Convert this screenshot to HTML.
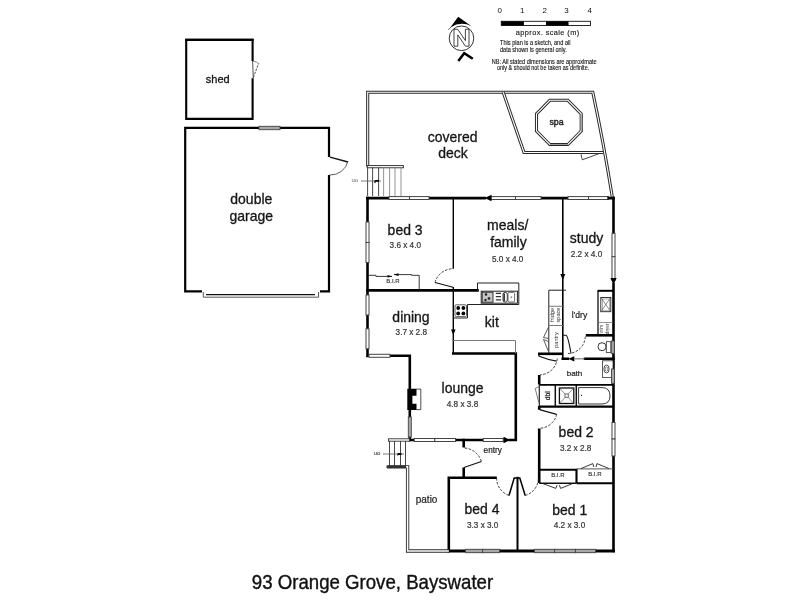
<!DOCTYPE html>
<html><head><meta charset="utf-8">
<style>
html,body{margin:0;padding:0;background:#fff;width:800px;height:600px;overflow:hidden}
svg{display:block;will-change:transform}
text{font-family:"Liberation Sans",sans-serif}
.w{stroke:#000;stroke-width:2.6;fill:none;stroke-linecap:square}
.wt{stroke:#000;stroke-width:1.4;fill:none}
.dl{stroke:#2a2a2a;stroke-width:3.1;fill:none}
.dw{stroke:#fff;stroke-width:1.1;fill:none}
.win{fill:#fff;stroke:#444;stroke-width:1}
.wg{fill:#a8a8a8;stroke:#444;stroke-width:0.9}
.thin{stroke:#222;stroke-width:1;fill:none}
.dash{stroke:#2a2a2a;stroke-width:0.9;fill:none;stroke-dasharray:2.6 1.4}
.lbl{font-size:13.8px;fill:#161616;stroke:#161616;stroke-width:0.3;text-anchor:middle}
.dim{font-size:8.2px;fill:#383838;stroke:#383838;stroke-width:0.22;text-anchor:middle}
.sm{font-size:9px;fill:#222;stroke:#222;stroke-width:0.2;text-anchor:middle}
</style></head>
<body>
<svg width="800" height="600" viewBox="0 0 800 600">
<rect width="800" height="600" fill="#fff"/>

<!-- ===== compass & scale ===== -->
<g id="compass">
  <circle cx="461.5" cy="38.3" r="12.3" fill="none" stroke="#333" stroke-width="1"/>
  <path d="M448.3,30 A14.6,14.6 0 0 1 454,25" stroke="#444" stroke-width="0.8" fill="none"/>
  <path d="M450.5,27.3 L458.2,16.8 L471.5,26.2 Q461,21 450.5,27.3 Z" fill="#000"/>
  <path d="M454,46.2 L454,29.3 L457.8,29.3 L465.4,40.6 L465.4,29.3 L469,29.3 L469,46.2 L465.4,46.2 L457.8,34.9 L457.8,46.2 Z" fill="#fff" stroke="#222" stroke-width="0.85" stroke-linejoin="miter"/>
  <path d="M458.3,61 L464.2,53.2 L472.8,58.8" stroke="#000" stroke-width="2.5" fill="none"/>
</g>
<g id="scale">
  <text x="499.7" y="13.2" font-size="8" fill="#111" text-anchor="middle">0</text>
  <text x="522.2" y="13.2" font-size="8" fill="#111" text-anchor="middle">1</text>
  <text x="544.7" y="13.2" font-size="8" fill="#111" text-anchor="middle">2</text>
  <text x="566.5" y="13.2" font-size="8" fill="#111" text-anchor="middle">3</text>
  <text x="589.7" y="13.2" font-size="8" fill="#111" text-anchor="middle">4</text>
  <rect x="501.3" y="21.3" width="89.2" height="4.2" fill="#fff" stroke="#111" stroke-width="0.9"/>
  <rect x="501.3" y="21.3" width="22.6" height="4.2" fill="#000"/>
  <rect x="546" y="21.3" width="22.5" height="4.2" fill="#000"/>
  <text x="515.8" y="35.2" font-size="7.4" fill="#222" stroke="#222" stroke-width="0.15" textLength="63.4" lengthAdjust="spacing">approx. scale (m)</text>
  <text x="500" y="44.7" font-size="6.9" fill="#111" stroke="#111" stroke-width="0.12" textLength="70.5" lengthAdjust="spacingAndGlyphs">This plan is a sketch, and all</text>
  <text x="500" y="52.2" font-size="6.9" fill="#111" stroke="#111" stroke-width="0.12" textLength="66.7" lengthAdjust="spacingAndGlyphs">data shown is general only.</text>
  <text x="491.7" y="63.5" font-size="6.9" fill="#111" stroke="#111" stroke-width="0.12" textLength="105" lengthAdjust="spacingAndGlyphs">NB: All stated dimensions are approximate</text>
  <text x="497" y="70.2" font-size="6.9" fill="#111" stroke="#111" stroke-width="0.12" textLength="92.2" lengthAdjust="spacingAndGlyphs">only &amp; should not be taken as definite.</text>
</g>

<!-- ===== shed ===== -->
<g id="shed">
  <path class="w" d="M252.6,61 L252.6,39.9 L186.2,39.9 L186.2,118.9 L252.6,118.9 L252.6,78.3" style="stroke-width:2.1;stroke-linecap:butt"/>
  <path class="w" d="M186.2,39.9 L252.6,39.9" style="stroke-width:2.1"/>
  <path d="M252.6,60.8 L253.3,78.3" stroke="#222" stroke-width="0.8" fill="none"/>
  <path d="M253.3,77.5 L258.6,63.5" stroke="#444" stroke-width="0.9" fill="none" stroke-dasharray="2.5 1"/>
  <path d="M253,61 Q257,61.8 258.8,63.8" stroke="#555" stroke-width="0.7" fill="none"/>
  <text class="lbl" x="217.7" y="83" font-size="11" style="font-size:11px">shed</text>
</g>

<!-- ===== garage ===== -->
<g id="garage">
  <path class="w" d="M329,157 L329,127.9 L185.2,127.9 L185.2,291.3 L202,291.3" style="stroke-width:2.2;stroke-linecap:butt"/>
  <path class="w" d="M329,175 L329,291.3 L320,291.3" style="stroke-width:2.2;stroke-linecap:butt"/>
  <rect class="wg" x="259" y="126.3" width="21" height="3.4"/>
  <path d="M330,157.2 L348,162" stroke="#111" stroke-width="1.3" fill="none"/>
  <path d="M348,161 A18,18 0 0 1 329.5,175" stroke="#333" stroke-width="0.8" fill="none"/>
  <path d="M203.3,292 L203.3,297.2 L318.6,297.2 L318.6,292" stroke="#444" stroke-width="0.9" fill="none"/>
  <path d="M206,294.6 L315,294.6" stroke="#111" stroke-width="1.4" fill="none"/>
  <text class="lbl" transform="translate(251.3,203.6) scale(1.014,1)">double</text>
  <text class="lbl" transform="translate(251.3,220.6) scale(1.014,1)">garage</text>
</g>

<!-- ===== covered deck ===== -->
<g id="deck">
  <path class="dl" d="M367.7,166.5 L367.7,92.3 L592.8,92.3 Q603.5,142 612.3,197"/>
  <path class="dw" d="M367.7,166.5 L367.7,92.3 L592.8,92.3 Q603.5,142 612.3,197"/>
  <path class="dl" d="M503.2,92.3 L524,152.5 L603,152.5"/>
  <path class="dw" d="M503.2,92.3 L524,152.5 L603,152.5"/>
  <rect x="367.2" y="165.6" width="36.2" height="2.2" fill="#fff" stroke="#222" stroke-width="0.9"/>
  <g stroke="#333" stroke-width="0.9">
    <line x1="367.6" y1="167.5" x2="367.6" y2="196"/>
    <line x1="372.6" y1="167.5" x2="372.6" y2="196"/>
    <line x1="378.6" y1="167.5" x2="378.6" y2="196"/>
  </g>
  <g stroke="#888" stroke-width="0.9">
    <line x1="383.6" y1="167.5" x2="383.6" y2="196"/>
    <line x1="389.6" y1="167.5" x2="389.6" y2="196"/>
    <line x1="395" y1="167.5" x2="395" y2="196"/>
    <line x1="401" y1="167.5" x2="401" y2="196"/>
  </g>
  <line x1="361" y1="181" x2="381" y2="181" stroke="#555" stroke-width="0.8"/>
  <path d="M374.5,180.3 L379,179.8 L379,181.8 L375.5,181.8 L375.5,183.2 L374.3,183 Z" fill="#000"/>
  <text x="354.8" y="182.3" font-size="6" fill="#666" text-anchor="middle">uo</text>
  <path class="dl" d="M536.5,113.8 L549.8,100.3 L567.9,100.3 L581.2,113.8 L581.2,131 L567.9,144.5 L549.8,144.5 L536.5,131 Z"/>
  <path class="dw" d="M536.5,113.8 L549.8,100.3 L567.9,100.3 L581.2,113.8 L581.2,131 L567.9,144.5 L549.8,144.5 L536.5,131 Z"/>
  <path d="M581.2,114.5 L581.2,131 M567.9,144.5 L549.8,144.5" stroke="#9a9a9a" stroke-width="1.1" fill="none"/>
  <text x="556.5" y="124.5" font-size="8.8" fill="#222" text-anchor="middle" stroke="#222" stroke-width="0.4">spa</text>
  <path d="M581,154.2 L582.3,159.8 L599.8,153.4" stroke="#333" stroke-width="0.9" fill="none"/>
  <text class="lbl" transform="translate(452.7,141.8) scale(1.014,1)">covered</text>
  <text class="lbl" transform="translate(453,157.6) scale(1.014,1)">deck</text>
</g>

<!-- ===== house walls ===== -->
<g id="house">
  <!-- top wall -->
  <path class="w" d="M367.5,198.1 L389,198.1 M429,198.1 L484.5,198.1 M541,198.1 L568,198.1 M609,198.1 L613.5,198.1" style="stroke-width:2.8"/>
  <rect class="win" x="389" y="196.6" width="20.5" height="2.9"/>
  <rect class="win" x="409.5" y="196.6" width="19.5" height="2.9"/>
  <rect class="win" x="491" y="196.6" width="24.5" height="2.9"/>
  <rect class="win" x="515.5" y="196.6" width="25.5" height="2.9"/>
  <path d="M484.5,198 L491.5,194.8 L491.5,201.2 Z" fill="#000"/>
  <rect class="win" x="568" y="196.6" width="20.5" height="2.9"/>
  <rect class="win" x="588.5" y="196.6" width="19.5" height="2.9"/>
  <path d="M612,198 L607.5,196 L607.5,200 Z" fill="#000"/>
  <!-- left wall -->
  <path class="w" d="M367.5,198 L367.5,222 M367.5,262.5 L367.5,295 M367.5,315 L367.5,328.8 M367.5,348.8 L367.5,356"/>
  <rect class="win" x="366" y="222" width="3" height="20.5"/>
  <rect class="win" x="366" y="242.5" width="3" height="20"/>
  <rect class="win" x="366" y="295" width="3" height="20"/>
  <rect class="win" x="366" y="328.8" width="3" height="20"/>
  <!-- right wall -->
  <path class="w" d="M613.5,198 L613.5,233.3 M613.5,284 L613.5,551"/>
  <rect class="win" x="612" y="233.3" width="3" height="23.4"/>
  <rect class="win" x="612" y="256.7" width="3" height="23.3"/>
  <path d="M613.5,284.5 L610.3,278 L616.7,278 Z" fill="#000"/>
  <rect class="win" x="612" y="422.5" width="3" height="16.5"/>
  <rect class="win" x="612" y="439" width="3" height="17"/>
  <!-- bottom wall -->
  <path class="w" d="M449,551 L613.5,551" style="stroke-width:2.8"/>
  <rect class="wg" x="465.6" y="549.3" width="17" height="3.4"/>
  <rect class="wg" x="482.6" y="549.3" width="17" height="3.4"/>
  <rect class="wg" x="534.4" y="549.3" width="20.2" height="3.4"/>
  <rect class="wg" x="554.6" y="549.3" width="20.8" height="3.4"/>
  <rect class="wg" x="575.4" y="549.3" width="20.2" height="3.4"/>
  <!-- bed3 bottom -->
  <path class="w" d="M367.5,290.4 L477.5,290.4"/>
  <!-- bed3/meals wall -->
  <path class="wt" d="M453.3,198 L453.3,268.8 M453.3,287 L453.3,354"/>
  <!-- bed3 door -->
  <path d="M453,287.3 L435,282.5" stroke="#111" stroke-width="1.1" fill="none"/>
  <path class="dash" d="M435,282.5 A18.5,18.5 0 0 1 453,268.8"/>
  <!-- BIR bed3 -->
  <path d="M368.5,275.3 L375.9,275.3 L375.9,276.4 L392,276.4 M394,274.6 L411.5,274.6 L411.5,275.3 L419.2,275.3 L419.2,290" stroke="#222" stroke-width="0.9" fill="none"/>
  <path d="M392.3,276.4 L387.5,274.9 L387.5,277.6 Z M393.8,274.6 L398.5,273.2 L398.5,275.9 Z" fill="#000"/>
  <text x="392.9" y="282.6" font-size="6" fill="#333" stroke="#333" stroke-width="0.15" text-anchor="middle">B.I.R</text>
  <!-- meals/study wall -->
  <path class="wt" d="M562.8,198 L562.8,358.5" style="stroke-width:1.6"/>
  <path d="M562.8,280 L560.3,274 L565.3,274 Z" fill="#000"/>
  <!-- dining bottom & lounge left -->
  <path class="w" d="M390,355.8 L409.8,355.8 L409.8,388.7 M409.8,410 L409.8,417 M409.8,437 L409.8,440"/>
  <rect class="win" x="369" y="354.3" width="21" height="3"/>
  <path d="M416.3,389.1 L420.8,389.1 L420.8,409.6 L416.3,409.6" fill="#fff" stroke="#222" stroke-width="0.8"/>
  <path d="M407.3,388.7 L416.5,388.7 L416.5,395.8 L412.4,395.8 L412.4,403.7 L416.5,403.7 L416.5,410 L407.3,410 Z" fill="#000"/>
  <rect class="wg" x="408.3" y="417" width="3" height="20"/>
  <!-- lounge bottom -->
  <path class="w" d="M409.8,440 L414.2,440 M455.5,440 L483.2,440 M510,440 L515.8,440 L515.8,353.5 L453.3,353.5"/>
  <rect class="win" x="414.2" y="438.5" width="20.6" height="3"/>
  <rect class="win" x="434.8" y="438.5" width="20.7" height="3"/>
  <rect class="win" x="483.2" y="438.5" width="20" height="3"/>
  <path d="M510.5,440 L503.5,436.8 L503.5,443.2 Z" fill="#000"/>
  <!-- kitchen benches -->
  <path d="M477.5,290.4 L477.5,283 L518.8,283 L518.8,304.5 L467.5,304.5 L467.5,318 L453.3,318" stroke="#222" stroke-width="1" fill="none"/>
  <rect x="455" y="304.8" width="11.5" height="11.8" rx="1.2" fill="#fff" stroke="#333" stroke-width="0.8"/>
  <circle cx="458.2" cy="308" r="1.9" fill="#000"/><circle cx="463.4" cy="308" r="1.9" fill="#000"/>
  <circle cx="458.2" cy="313.4" r="1.9" fill="#000"/><circle cx="463.4" cy="313.4" r="1.9" fill="#000"/>
  <rect x="481.2" y="291.2" width="36.2" height="12" fill="#fff" stroke="#222" stroke-width="1"/>
  <rect x="482.2" y="292.2" width="10.8" height="10" fill="#c8c8c8" stroke="#222" stroke-width="0.9"/>
  <circle cx="486" cy="294.5" r="1.3" fill="#222"/><circle cx="489" cy="298.5" r="1.4" fill="#333"/><circle cx="485.5" cy="300" r="1.2" fill="#222"/>
  <path d="M495.8,293.3 L501,293.3 M495.8,296.6 L501,296.6 M495.8,299.9 L501,299.9" stroke="#333" stroke-width="1.2"/>
  <rect x="503" y="292.4" width="4.3" height="9.6" rx="2" fill="#fff" stroke="#222" stroke-width="0.9"/>
  <path d="M504.2,293.5 L504.2,301" stroke="#000" stroke-width="1.2"/>
  <rect x="508" y="292.4" width="6.6" height="9.6" rx="1.2" fill="#fff" stroke="#444" stroke-width="0.8"/>
  <path d="M510.3,297.2 L512.3,297.2 M511.3,296.2 L511.3,298.2" stroke="#555" stroke-width="0.5"/>
  <path d="M453.3,335 L451,329.5 L455.6,329.5 Z" fill="#000"/>
  <path d="M453.3,340.5 L515.5,340.5 L515.5,353.5" stroke="#777" stroke-width="1" fill="none"/>
  <!-- fridge/pantry -->
  <path d="M566,290.2 L548.8,290.2 L548.8,354" stroke="#222" stroke-width="1" fill="none"/>
  <path d="M548.8,306.2 L562.8,306.2 M548.8,325.5 L562.8,325.5" stroke="#777" stroke-width="1.1"/>
  <path d="M548.3,327.5 L543.5,337.5 L548.3,338.5 M548.3,341.5 L543.5,339.5 L548.3,351" stroke="#333" stroke-width="0.8" fill="none"/>
  <text transform="translate(553.5,315) rotate(-90)" font-size="5.6" fill="#333" text-anchor="middle">fridge</text>
  <text transform="translate(560,315) rotate(-90)" font-size="5.6" fill="#333" text-anchor="middle">space</text>
  <text transform="translate(557.5,340) rotate(-90)" font-size="5.6" fill="#333" text-anchor="middle">pantry</text>
  <path class="w" d="M538,353.8 L562.8,353.8" style="stroke-linecap:butt"/>
  <!-- laundry/bath -->
  <path class="w" d="M562.8,358.8 L567.8,358.8 M585,358.8 L613.5,358.8"/>
  <path d="M568.3,358.8 L574.3,356.2 L574.3,361.4 Z" fill="#000"/>
  <path d="M574,358.8 L584.5,358.8" stroke="#8a8a8a" stroke-width="1.3"/>
  <path class="w" d="M585.8,335.3 L613.5,335.3" style="stroke-linecap:butt"/>
  <path d="M563,335.3 L566,335.3 Q568,336 571,353.5" stroke="#111" stroke-width="1.1" fill="none"/>
  <path class="dash" d="M568,353.5 A17.5,17.5 0 0 0 585.3,336.5"/>
  <path d="M538.6,354.5 L539.2,356.3 Q547,359.5 556.6,361.2" stroke="#111" stroke-width="1.2" fill="none"/>
  <path class="dash" d="M557.3,358.5 A18,18 0 0 1 540,374.8"/>
  <path class="w" d="M539.2,375 L539.2,384.5 M539.2,407 L539.2,407 M539.2,428.5 L539.2,483" style="stroke-linecap:butt"/>
  <!-- bath block -->
  <path d="M539.2,384.9 L613.5,384.9" stroke="#000" stroke-width="1.8"/>
  <path d="M539.2,406.7 L613.5,406.7" stroke="#000" stroke-width="2.2"/>
  <path d="M555.3,384.9 L555.3,406.7 M576.3,384.9 L576.3,406.7" stroke="#111" stroke-width="1.5"/>
  <rect x="559.4" y="388" width="14.4" height="15.5" fill="#fff" stroke="#111" stroke-width="1.3"/>
  <path d="M559.4,388 L573.8,403.5 M573.8,388 L559.4,403.5" stroke="#444" stroke-width="0.6"/>
  <rect x="565" y="394" width="3.2" height="3.2" fill="#fff" stroke="#333" stroke-width="0.7"/>
  <path d="M578.6,387.6 L602,387.6 Q610,387.6 610,395.8 Q610,404 602,404 L578.6,404 Z" fill="#fff" stroke="#222" stroke-width="0.9"/>
  <circle cx="581.5" cy="395.3" r="0.6" fill="#000"/>
  <text transform="translate(550,395.8) rotate(-90)" font-size="6.6" fill="#222" stroke="#222" stroke-width="0.2" text-anchor="middle">dbl</text>
  <path d="M539.3,384.9 L539.3,406.7" stroke="#222" stroke-width="1.2"/>
  <path d="M539,386.5 L535.2,388.5 L538.8,402.5" stroke="#444" stroke-width="0.7" fill="none"/>
  <!-- laundry unit -->
  <path d="M613.5,290.8 L597.5,290.8" stroke="#000" stroke-width="2"/>
  <path d="M598,290.8 L598,335" stroke="#111" stroke-width="1.3"/>
  <rect x="600.8" y="297.5" width="10" height="14.2" fill="#fff" stroke="#222" stroke-width="0.9"/>
  <rect x="602.3" y="299" width="7" height="11.2" fill="none" stroke="#666" stroke-width="0.5"/>
  <path d="M601,297.7 L610.6,311.5 M610.6,297.7 L601,311.5" stroke="#444" stroke-width="0.6"/>
  <path d="M598,322.5 L613,322.5" stroke="#666" stroke-width="0.7"/>
  <text transform="translate(602.5,329) rotate(-90)" font-size="4.5" fill="#333" text-anchor="middle">w/m</text>
  <text transform="translate(608.5,329) rotate(-90)" font-size="4.5" fill="#333" text-anchor="middle">dryer</text>
  <!-- toilet -->
  <circle cx="602" cy="346.7" r="4" fill="#fff" stroke="#222" stroke-width="0.9"/>
  <rect x="606.3" y="341.7" width="4.5" height="10.8" fill="#fff" stroke="#333" stroke-width="0.8"/>
  <rect class="wg" x="611.3" y="341" width="3" height="12.5"/>
  <!-- vanity -->
  <rect x="602.5" y="360.8" width="10.5" height="16.7" fill="#fff" stroke="#333" stroke-width="0.8"/>
  <ellipse cx="606.5" cy="369" rx="2.6" ry="4" fill="none" stroke="#222" stroke-width="0.8"/>
  <ellipse cx="606.5" cy="369" rx="1.3" ry="2.2" fill="none" stroke="#444" stroke-width="0.6"/>
  <rect class="wg" x="611.5" y="369" width="3" height="14.3"/>
  <!-- bed2 door -->
  <path class="w" d="M539.2,406 L539.2,409.7" style="stroke-linecap:butt"/>
  <path d="M539.5,409.7 L556.7,414.3" stroke="#111" stroke-width="1.2" fill="none"/>
  <path class="dash" d="M556.7,414.3 A18,18 0 0 1 539.7,428.3"/>
  <!-- BIR bed2 -->
  <path d="M539.2,469.8 L576.5,469.8 L576.5,483" stroke="#000" stroke-width="2.1" fill="none"/>
  <path d="M539.2,483.2 L576.5,483.2" stroke="#111" stroke-width="1.4"/>
  <path d="M576.5,483.2 L613.5,483.2" stroke="#000" stroke-width="2"/>
  <path d="M576.5,468.9 L613.5,468.9" stroke="#444" stroke-width="0.9"/>
  <path d="M581,468.6 L592.8,463.6 L593.8,467 M596,467 L597,463.6 L609,468.6" stroke="#222" stroke-width="0.9" fill="none"/>
  <path d="M543,483.6 L555.8,488.4 L557,485.2 M559.4,485.2 L560.6,488.4 L572.5,483.6" stroke="#222" stroke-width="0.9" fill="none"/>
  <text x="557.8" y="477.4" font-size="6" fill="#333" stroke="#333" stroke-width="0.15" text-anchor="middle">B.I.R</text>
  <text x="594.8" y="476.4" font-size="6" fill="#333" stroke="#333" stroke-width="0.15" text-anchor="middle">B.I.R</text>
  <!-- entry walls -->
  <path class="w" d="M463.7,438.8 L463.7,447.5 M463.7,467.6 L463.7,479" style="stroke-linecap:butt"/>
  <path d="M464,467.5 L481.4,461.4" stroke="#111" stroke-width="1.1" fill="none"/>
  <path class="dash" d="M481.4,461.4 A19,19 0 0 0 464.5,448"/>
  <!-- bed4 -->
  <path class="w" d="M495.5,477.8 L448.8,477.8 L448.8,551"/>
  <path class="w" d="M517.5,477.8 L517.5,551" style="stroke-width:2"/>
  <path d="M509,495.5 L514.2,478 L519.8,478 L525.2,495.5" stroke="#000" stroke-width="1.5" fill="none" stroke-linejoin="miter"/>
  <path class="dash" d="M496.6,478 A18.5,18.5 0 0 0 509,495.5"/>
  <path class="dash" d="M525.2,495.5 A18.3,18.3 0 0 0 538.4,479"/>
  <!-- patio stairs -->
  <rect x="388.5" y="438.8" width="21" height="2.4" fill="#fff" stroke="#333" stroke-width="0.9"/>
  <g stroke="#333" stroke-width="0.9">
    <line x1="389.5" y1="441" x2="389.5" y2="466"/>
    <line x1="394.5" y1="441" x2="394.5" y2="466"/>
    <line x1="400.5" y1="441" x2="400.5" y2="466"/>
    <line x1="405.5" y1="441" x2="405.5" y2="466"/>
  </g>
  <line x1="383" y1="454" x2="404" y2="454" stroke="#555" stroke-width="0.8"/>
  <path d="M397.5,453 L401.5,453.3 L401.5,455 L398.5,455 L397.5,456.3 Z" fill="#000"/>
  <text x="377" y="455.4" font-size="6" fill="#555" stroke="#555" stroke-width="0.2" text-anchor="middle">uo</text>
  <path class="dl" d="M387.2,466.8 L407.6,466.8 L407.6,551 L448.8,551" style="stroke-width:3.3"/>
  <path class="dw" d="M387.2,466.8 L407.6,466.8 L407.6,551 L448.8,551" style="stroke-width:1.5"/>
  <path d="M386.5,466.8 L406,466.8" stroke="#333" stroke-width="2.4"/>
</g>

<!-- ===== labels ===== -->
<g>
  <text class="lbl" transform="translate(405.1,234.8) scale(1.014,1)">bed 3</text>
  <text class="dim" x="405.3" y="247.9">3.6 x 4.0</text>
  <text class="lbl" transform="translate(507.7,230) scale(1.014,1)">meals/</text>
  <text class="lbl" transform="translate(508.4,247) scale(1.014,1)">family</text>
  <text class="dim" x="507.7" y="261.6">5.0 x 4.0</text>
  <text class="lbl" transform="translate(586.5,243) scale(1.014,1)">study</text>
  <text class="dim" x="586.5" y="257">2.2 x 4.0</text>
  <text class="lbl" transform="translate(411,321.6) scale(1.014,1)">dining</text>
  <text class="dim" x="411.3" y="335">3.7 x 2.8</text>
  <text class="lbl" transform="translate(491.8,326.6) scale(1.014,1)">kit</text>
  <text class="sm" x="579.5" y="317.8" style="font-size:8.6px">l'dry</text>
  <text class="sm" x="574.5" y="375.5" style="font-size:8px">bath</text>
  <text class="lbl" transform="translate(462.5,392.6) scale(1.014,1)">lounge</text>
  <text class="dim" x="462.5" y="406.6">4.8 x 3.8</text>
  <text class="sm" x="492.7" y="453" style="font-size:8.2px">entry</text>
  <text class="lbl" transform="translate(576.1,437) scale(1.014,1)">bed 2</text>
  <text class="dim" x="575.6" y="451.4">3.2 x 2.8</text>
  <text class="lbl" transform="translate(482,514) scale(1.014,1)">bed 4</text>
  <text class="dim" x="482.7" y="527.6">3.3 x 3.0</text>
  <text class="sm" x="426.6" y="503" style="font-size:10px">patio</text>
  <text class="lbl" transform="translate(569.7,515) scale(1.014,1)">bed 1</text>
  <text class="dim" x="569.5" y="528">4.2 x 3.0</text>
  <text transform="translate(251.8,588.6) scale(1,1.05)" x="0" y="0" font-size="18.65" fill="#111" stroke="#111" stroke-width="0.35">93 Orange Grove, Bayswater</text>
</g>
</svg>
</body></html>
